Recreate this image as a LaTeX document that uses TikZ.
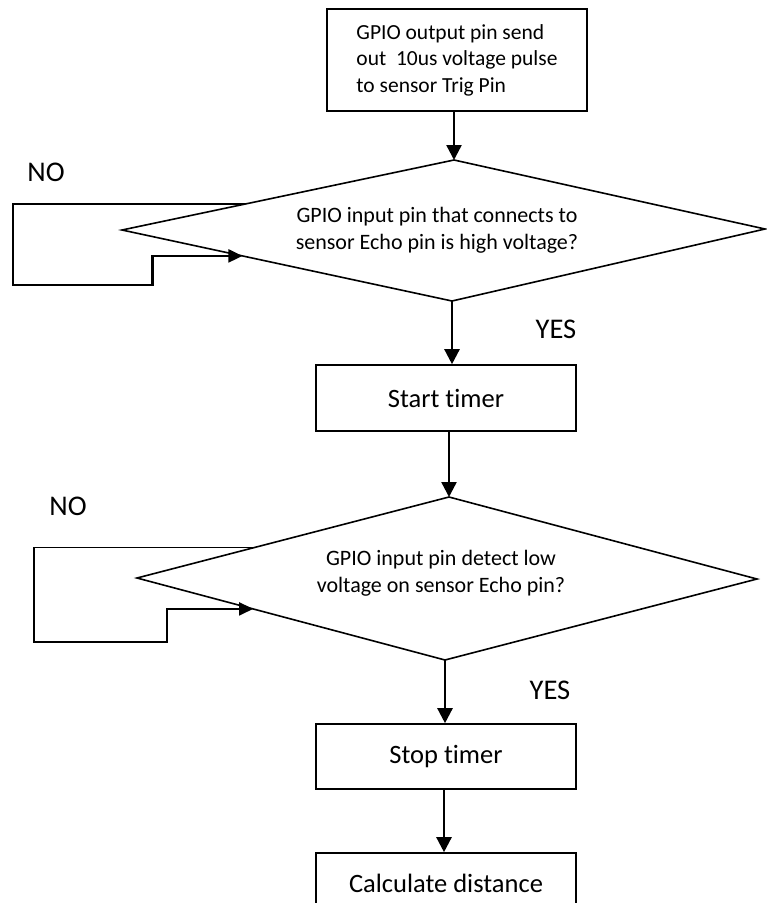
\documentclass[tikz,border=0pt]{standalone}
\usepackage{fontspec}
\setmainfont{Carlito}[Ligatures=NoCommon]
\usepackage{tikz}
\usetikzlibrary{calc}
\usetikzlibrary{arrows.meta}
\usetikzlibrary{positioning}

\begin{document}
\begin{tikzpicture}[x=1pt,y=-1pt]
    \tikzstyle{every path}=[line width=1.6pt]
    \tikzstyle{bnode}=[draw=black,line width=1.6pt,minimum width=260pt,minimum height=66pt,font=\fontsize{26.5}{31}\selectfont]
    \tikzstyle{qtext}=[align=center,font=\fontsize{22}{27.5}\selectfont]
    \tikzstyle{lbl}=[font=\fontsize{28.5}{33}\selectfont]
    \tikzstyle{arr}=[-{Triangle[length=15pt,width=15pt]},line width=2.4pt]

    \useasboundingbox (0,0) rectangle (767,903);

    \node[bnode,minimum height=102pt,align=left,font=\fontsize{21.5}{26.5}\selectfont] (trig) at (457,60)
        {GPIO output pin send\\out\ \ 10us voltage pulse\\to sensor Trig Pin} ;

    % first question
    \coordinate (q1t) at (454,160) ;
    \coordinate (q1l) at (122,230) ;
    \coordinate (q1r) at (765,229) ;
    \coordinate (q1b) at (452,301) ;
    \draw (q1t) -- (q1r) -- (q1b) -- (q1l) -- cycle ;
    \node[qtext] (q1) at (437,230) {GPIO input pin that connects to\\sensor Echo pin is high voltage?} ;

    \node[bnode] (start) at (446,398) {Start timer} ;

    % second question
    \coordinate (q2t) at (449,497) ;
    \coordinate (q2l) at (137,578) ;
    \coordinate (q2r) at (757,579) ;
    \coordinate (q2b) at (445,660) ;
    \draw (q2t) -- (q2r) -- (q2b) -- (q2l) -- cycle ;
    \node[qtext] (q2) at (441,573) {GPIO input pin detect low\\voltage on sensor Echo pin?} ;

    \node[bnode,minimum height=65pt] (stop) at (446,756.5) {Stop timer} ;
    \node[bnode,minimum height=60pt] (calc) at (446,883) {Calculate distance} ;

    \node[lbl] (no1) at (46,172) {NO} ;
    \node[lbl] (yes1) at (556,329) {YES} ;
    \node[lbl] (no2) at (68,506) {NO} ;
    \node[lbl] (yes2) at (550,690) {YES} ;

    \draw[arr] (trig.south -| q1t) -- (q1t) ;
    \draw[arr] (q1b) -- (q1b |- start.north) ;
    \draw[arr] (start.south -| q2t) -- (q2t) ;
    \draw[arr] (q2b) -- (q2b |- stop.north) ;
    \draw[arr] ([xshift=-2pt]stop.south) -- ([xshift=-2pt]calc.north) ;

    % loops back on NO
    \coordinate (n1a) at ($(q1l)!0.37!(q1t)$) ;
    \coordinate (n1b) at ($(q1l)!0.365!(q1b)$) ;
    \draw (n1a) -| (13,285) -- (63,285) ;
    \draw[arr,line width=2.2pt,-{Triangle[length=14pt,width=13pt]}] (63,285) -| ($(n1b)+(-90,0)$) -- (n1b) ;

    \coordinate (n2a) at ($(q2l)!0.375!(q2t)$) ;
    \coordinate (n2b) at ($(q2l)!0.377!(q2b)$) ;
    \draw (n2a) -| (34,642) -- (80,642) ;
    \draw[arr,line width=2.2pt,-{Triangle[length=14pt,width=13pt]}] (80,642) -| ($(n2b)+(-86,0)$) -- (n2b) ;

\end{tikzpicture}
\end{document}
